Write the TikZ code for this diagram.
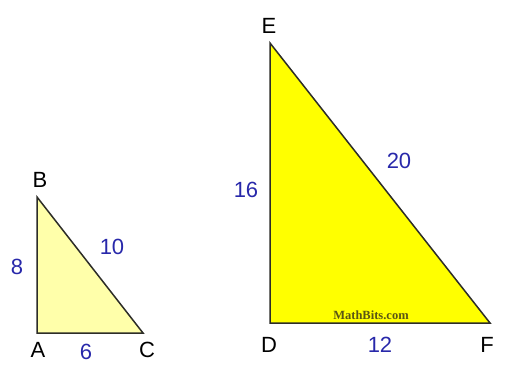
\documentclass[tikz,border=0pt]{standalone}
\usepackage{fontspec}
\setmainfont{Liberation Sans}
\newfontfamily\serifb{Liberation Serif}
\definecolor{lblblue}{RGB}{40,40,170}
\definecolor{edge}{RGB}{45,45,40}
\definecolor{paleyel}{RGB}{255,255,170}
\definecolor{brightyel}{RGB}{255,255,0}
\definecolor{olive}{RGB}{90,85,20}
\begin{document}
\begin{tikzpicture}[x=1pt,y=-1pt,
  tri/.style={draw=edge,line width=1.5pt,line join=miter},
  vlab/.style={inner sep=0pt,font=\fontsize{22}{22}\selectfont,text=black},
  slab/.style={inner sep=0pt,font=\fontsize{22}{22}\selectfont,text=lblblue}]
\useasboundingbox (0,0) rectangle (507,370);
\coordinate (A) at (37,333);
\coordinate (B) at (37,197);
\coordinate (C) at (143,333);
\coordinate (D) at (270,323);
\coordinate (E) at (270,43);
\coordinate (F) at (490,323);
\filldraw[tri,fill=paleyel] (A) -- (B) -- (C) -- cycle;
\filldraw[tri,fill=brightyel] (D) -- (E) -- (F) -- cycle;
\node[vlab] (lB) at (40,180) {B};
\node[vlab] (lA) at (38,350) {A};
\node[vlab] (lC) at (147,350) {C};
\node[slab] (l8) at (17,267) {8};
\node[slab] (l10) at (112,247) {10};
\node[slab] (l6) at (86,352) {6};
\node[vlab] (lE) at (269,26) {E};
\node[vlab] (lD) at (269,345) {D};
\node[vlab] (lF) at (487,345) {F};
\node[slab] (l16) at (246,190) {16};
\node[slab] (l20) at (399,161) {20};
\node[slab] (l12) at (380,345) {12};
\node[inner sep=0pt,font=\serifb\bfseries\fontsize{12.5}{12.5}\selectfont,text=olive] (mb) at (371,315) {MathBits.com};
\end{tikzpicture}
\end{document}
